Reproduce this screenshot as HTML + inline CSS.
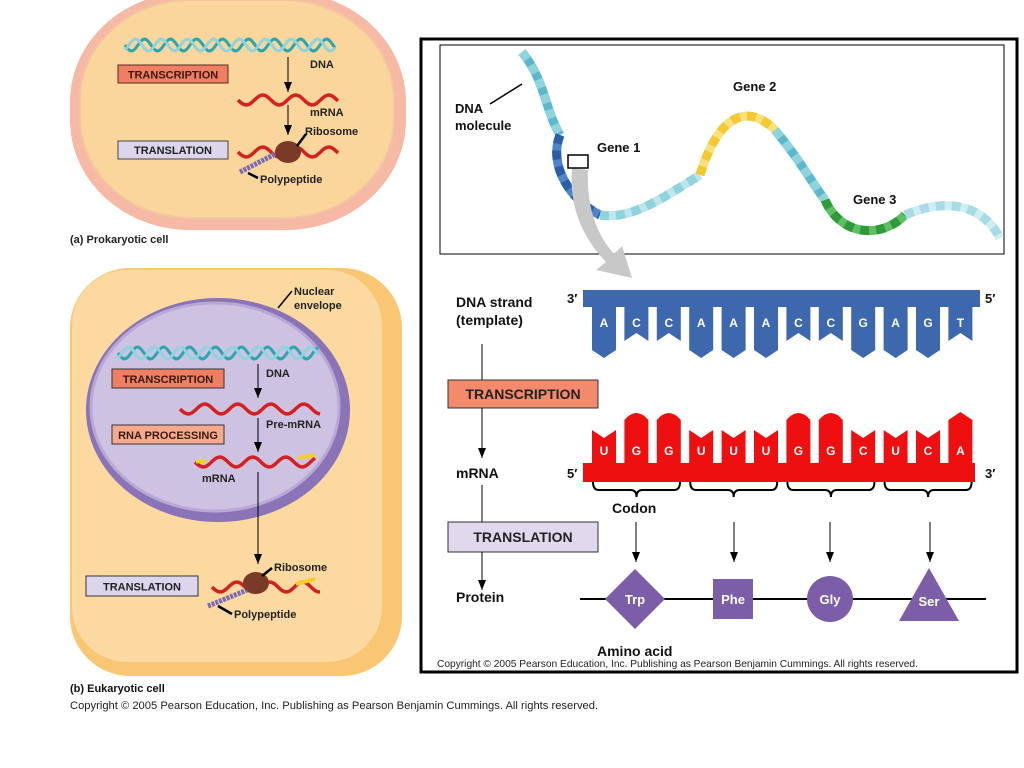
<!DOCTYPE html>
<html><head><meta charset="utf-8"><style>
html,body{margin:0;padding:0;background:#fff;width:1024px;height:768px;overflow:hidden}
text{font-family:"Liberation Sans",Arial,sans-serif;font-weight:bold;}
</style></head><body>
<svg id="s" width="1024" height="768" viewBox="0 0 1024 768" xmlns="http://www.w3.org/2000/svg">
<defs>
<marker id="ah" markerWidth="10" markerHeight="8" refX="10" refY="4" orient="auto" markerUnits="userSpaceOnUse"><path d="M0,0 L10,4 L0,8 Z" fill="#000"/></marker>
</defs>
<!-- Prokaryotic cell -->
<rect x="70" y="-8" width="336" height="238" rx="120" ry="110" fill="#f6b9a6"/>
<rect x="80" y="0" width="314" height="218" rx="110" ry="100" fill="#fbd69c" stroke="#f1c6a0" stroke-width="2"/>
<g id="pdna"></g>
<rect x="118" y="65" width="110" height="18" fill="#ef7f63" stroke="#5a2a20" stroke-width="1"/>
<text x="173" y="78.5" font-size="11" text-anchor="middle" fill="#3a1a10">TRANSCRIPTION</text>
<rect x="118" y="141" width="110" height="18" fill="#dcd5ec" stroke="#444" stroke-width="1"/>
<text x="173" y="154" font-size="11" text-anchor="middle" fill="#222">TRANSLATION</text>
<line x1="288" y1="57" x2="288" y2="92" stroke="#000" marker-end="url(#ah)"/>
<line x1="288" y1="105" x2="288" y2="135" stroke="#000" marker-end="url(#ah)"/>
<text x="310" y="68" font-size="11" fill="#222">DNA</text>
<text x="310" y="116" font-size="11" fill="#222">mRNA</text>
<text x="305" y="135" font-size="11" fill="#222">Ribosome</text>
<text x="260" y="183" font-size="11" fill="#222">Polypeptide</text>
<line x1="297" y1="146" x2="306" y2="134" stroke="#000" stroke-width="2.5"/>
<line x1="248" y1="173" x2="258" y2="178" stroke="#000" stroke-width="2.5"/>
<text x="70" y="243" font-size="11" fill="#222">(a) Prokaryotic cell</text>

<!-- Eukaryotic cell -->
<rect x="70" y="268" width="332" height="408" rx="60" ry="60" fill="#f9c673"/>
<rect x="72" y="270" width="310" height="392" rx="55" ry="55" fill="#fcd9a1"/>
<ellipse cx="218" cy="410" rx="132" ry="112" fill="#8a73b6"/>
<ellipse cx="215" cy="407" rx="124" ry="104" fill="#cdc2e2" stroke="#b8a8d6" stroke-width="3"/>
<g id="edna"></g>
<rect x="112" y="369" width="112" height="19" fill="#ef7f63" stroke="#333" stroke-width="1"/>
<text x="168" y="383" font-size="11" text-anchor="middle" fill="#3a1a10">TRANSCRIPTION</text>
<rect x="112" y="425" width="112" height="19" fill="#f6a98c" stroke="#333" stroke-width="1"/>
<text x="168" y="439" font-size="11" text-anchor="middle" fill="#3a1a10">RNA PROCESSING</text>
<rect x="86" y="576" width="112" height="20" fill="#dcd5ec" stroke="#333" stroke-width="1"/>
<text x="142" y="590.5" font-size="11" text-anchor="middle" fill="#222">TRANSLATION</text>
<line x1="258" y1="364" x2="258" y2="398" stroke="#000" marker-end="url(#ah)"/>
<line x1="258" y1="418" x2="258" y2="452" stroke="#000" marker-end="url(#ah)"/>
<line x1="258" y1="472" x2="258" y2="564" stroke="#000" marker-end="url(#ah)"/>
<text x="266" y="377" font-size="11" fill="#222">DNA</text>
<text x="266" y="428" font-size="11" fill="#222">Pre-mRNA</text>
<text x="202" y="482" font-size="11" fill="#222">mRNA</text>
<text x="294" y="295" font-size="11" fill="#222">Nuclear</text>
<text x="294" y="309" font-size="11" fill="#222">envelope</text>
<line x1="292" y1="291" x2="278" y2="308" stroke="#000" stroke-width="1.5"/>
<text x="274" y="571" font-size="11" fill="#222">Ribosome</text>
<text x="234" y="618" font-size="11" fill="#222">Polypeptide</text>
<line x1="262" y1="576" x2="272" y2="568" stroke="#000" stroke-width="2.5"/>
<line x1="218" y1="606" x2="232" y2="614" stroke="#000" stroke-width="2.5"/>
<text x="70" y="692" font-size="11" fill="#111">(b) Eukaryotic cell</text>
<text x="70" y="709" font-size="11.2" style="font-weight:normal" fill="#222">Copyright © 2005 Pearson Education, Inc. Publishing as Pearson Benjamin Cummings. All rights reserved.</text>

<!-- Right panel -->
<rect x="421" y="39" width="596" height="633" fill="#fff" stroke="#000" stroke-width="3"/>
<rect x="440" y="45" width="564" height="209" fill="#fff" stroke="#000" stroke-width="1"/>
<g id="bigdna"></g>
<path d="M572,168 C568,215 590,245 606,262 L596,270 L632,278 L622,246 L614,254 C600,238 586,212 588,170 Z" fill="#c8c8c8"/>
<rect x="568" y="155" width="20" height="13" fill="none" stroke="#000" stroke-width="1.5"/>
<text x="455" y="113" font-size="13" fill="#111">DNA</text>
<text x="455" y="130" font-size="13" fill="#111">molecule</text>
<line x1="490" y1="104" x2="522" y2="84" stroke="#000" stroke-width="1.5"/>
<text x="597" y="152" font-size="13" fill="#111">Gene 1</text>
<text x="733" y="91" font-size="13" fill="#111">Gene 2</text>
<text x="853" y="204" font-size="13" fill="#111">Gene 3</text>

<text x="456" y="307" font-size="14" fill="#111">DNA strand</text>
<text x="456" y="325" font-size="14" fill="#111">(template)</text>
<text x="567" y="303" font-size="13" fill="#111">3′</text>
<text x="985" y="303" font-size="13" fill="#111">5′</text>
<rect x="583" y="290" width="397" height="17" fill="#3d68ad"/>
<g id="dteeth"></g>
<line x1="482" y1="344" x2="482" y2="380" stroke="#000"/>
<rect x="448" y="380" width="150" height="28" fill="#f38a6c" stroke="#333"/>
<text x="523" y="399" font-size="14" text-anchor="middle" fill="#222">TRANSCRIPTION</text>
<line x1="482" y1="408" x2="482" y2="458" stroke="#000" marker-end="url(#ah)"/>
<text x="456" y="478" font-size="14" fill="#111">mRNA</text>
<text x="567" y="478" font-size="13" fill="#111">5′</text>
<text x="985" y="478" font-size="13" fill="#111">3′</text>
<rect x="583" y="463" width="392" height="19" fill="#ee1010"/>
<g id="rteeth"></g>
<g id="braces" fill="none" stroke="#000" stroke-width="2"></g>
<text x="612" y="513" font-size="14" fill="#111">Codon</text>
<line x1="482" y1="485" x2="482" y2="522" stroke="#000"/>
<rect x="448" y="522" width="150" height="30" fill="#e0d9ee" stroke="#333"/>
<text x="523" y="542" font-size="14" text-anchor="middle" fill="#222">TRANSLATION</text>
<line x1="482" y1="552" x2="482" y2="590" stroke="#000" marker-end="url(#ah)"/>
<text x="456" y="602" font-size="14" fill="#111">Protein</text>
<line x1="636" y1="522" x2="636" y2="562" stroke="#000" marker-end="url(#ah)"/>
<line x1="734" y1="522" x2="734" y2="562" stroke="#000" marker-end="url(#ah)"/>
<line x1="830" y1="522" x2="830" y2="562" stroke="#000" marker-end="url(#ah)"/>
<line x1="930" y1="522" x2="930" y2="562" stroke="#000" marker-end="url(#ah)"/>
<line x1="580" y1="599" x2="986" y2="599" stroke="#000" stroke-width="2"/>
<path d="M635,569 L665,599 L635,629 L605,599 Z" fill="#7b5ea7"/>
<rect x="713" y="579" width="40" height="40" fill="#7b5ea7"/>
<circle cx="830" cy="599" r="23" fill="#7b5ea7"/>
<path d="M929,568 L959,621 L899,621 Z" fill="#7b5ea7"/>
<text x="635" y="604" font-size="13" text-anchor="middle" fill="#fff">Trp</text>
<text x="733" y="604" font-size="13" text-anchor="middle" fill="#fff">Phe</text>
<text x="830" y="604" font-size="13" text-anchor="middle" fill="#fff">Gly</text>
<text x="929" y="606" font-size="13" text-anchor="middle" fill="#fff">Ser</text>
<text x="597" y="656" font-size="14" fill="#111">Amino acid</text>
<text x="437" y="667" font-size="10.2" style="font-weight:normal" fill="#222">Copyright © 2005 Pearson Education, Inc. Publishing as Pearson Benjamin Cummings. All rights reserved.</text>
</svg>
<script>
var NS="http://www.w3.org/2000/svg";
function el(p,t,a){var e=document.createElementNS(NS,t);for(var k in a)e.setAttribute(k,a[k]);document.getElementById(p).appendChild(e);return e;}
function wave(x0,x1,y,amp,per,ph){var d="";for(var x=x0;x<=x1;x+=2){var yy=y+amp*Math.sin((x-x0)/per*2*Math.PI+ph);d+=(d?"L":"M")+x+","+yy.toFixed(1);}return d;}
function helix(g,x0,x1,y,amp,per,c1,c2){el(g,"path",{d:wave(x0,x1,y,amp,per,0),stroke:c1,"stroke-width":3,fill:"none"});el(g,"path",{d:wave(x0,x1,y,amp,per,Math.PI*0.7),stroke:c2,"stroke-width":3,fill:"none"});}
function ribbon(g,x0,x1,y,amp,per){el(g,"path",{d:wave(x0,x1,y,amp,per,0),stroke:"#d42020","stroke-width":3.5,fill:"none"});}
helix("pdna",125,335,45,6,26,"#2aa6b0","#8fd3dc");
ribbon("pdna",238,338,100,5,33);ribbon("pdna",238,338,152,5,33);
el("pdna","path",{d:"M240,172 L283,150",stroke:"#7b6bb5","stroke-width":5,"stroke-dasharray":"3 1",fill:"none"});
el("pdna","ellipse",{cx:288,cy:152,rx:13,ry:11,fill:"#7a3a28"});
helix("edna",118,318,353,6,26,"#2aa6b0","#8fd3dc");
ribbon("edna",180,320,409,5,33);ribbon("edna",195,315,462,5,33);
el("edna","path",{d:"M196,462 L206,461",stroke:"#f0d020","stroke-width":3});el("edna","path",{d:"M298,458 L315,455",stroke:"#f0d020","stroke-width":4});
ribbon("edna",212,320,587,5,33);
el("edna","path",{d:"M208,606 L252,588",stroke:"#7b6bb5","stroke-width":5,"stroke-dasharray":"3 1",fill:"none"});
el("edna","ellipse",{cx:256,cy:583,rx:13,ry:11,fill:"#7a3a28"});
el("edna","path",{d:"M296,584 L315,579",stroke:"#f0d020","stroke-width":4});
var segs=[
 {pts:[[522,52],[545,80],[545,110],[560,135]],c:"#8fd3dc",c2:"#5bb8cc"},
 {pts:[[560,135],[548,165],[570,200],[600,215]],c:"#2c5ea8",c2:"#4c86c6"},
 {pts:[[600,215],[630,220],[660,200],[700,175]],c:"#8fd3dc",c2:"#bce6ec"},
 {pts:[[700,175],[720,110],[750,105],[775,130]],c:"#f3c830",c2:"#f8e07a"},
 {pts:[[775,130],[800,160],[810,180],[825,200]],c:"#8fd3dc",c2:"#5bb8cc"},
 {pts:[[825,200],[840,235],[880,240],[905,215]],c:"#2e9a3a",c2:"#5cc060"},
 {pts:[[905,215],[940,200],[980,200],[1000,238]],c:"#a8dbe6",c2:"#cfeef3"}];
segs.forEach(function(s){var p=s.pts;var d="M"+p[0]+" C"+p[1]+" "+p[2]+" "+p[3];
 el("bigdna","path",{d:d,stroke:s.c2,"stroke-width":9,fill:"none"});
 el("bigdna","path",{d:d,stroke:s.c,"stroke-width":9,fill:"none","stroke-dasharray":"9 7"});});
var dna="ACCAAACCGAGT", rna="UGGUUUGGCUCA";
for(var i=0;i<12;i++){var cx=604+i*32.4,w=24,x=cx-w/2;
 var long=(dna[i]=="A"||dna[i]=="G");var b=long?350:333;
 var d="M"+x+",306 L"+(x+w)+",306 L"+(x+w)+","+b+" L"+cx+","+(b+8)+" L"+x+","+b+" Z";
 if(!long)d="M"+x+",306 L"+(x+w)+",306 L"+(x+w)+","+(b+8)+" L"+cx+","+b+" L"+x+","+(b+8)+" Z";
 el("dteeth","path",{d:d,fill:"#3d68ad"});
 var t=el("dteeth","text",{x:cx,y:327,"font-size":12,"text-anchor":"middle",fill:"#fff"});t.textContent=dna[i];
 var rl=(rna[i]=="G"||rna[i]=="A");var r;
 if(rl)r="M"+x+",464 L"+x+",420 Q"+cx+",406 "+(x+w)+",420 L"+(x+w)+",464 Z";
 else r="M"+x+",464 L"+x+",430 L"+cx+",438 L"+(x+w)+",430 L"+(x+w)+",464 Z";
 if(rna[i]=="A")r="M"+x+",464 L"+x+",420 L"+cx+",412 L"+(x+w)+",420 L"+(x+w)+",464 Z";
 el("rteeth","path",{d:r,fill:"#ee1010"});
 var t2=el("rteeth","text",{x:cx,y:455,"font-size":12,"text-anchor":"middle",fill:"#fff"});t2.textContent=rna[i];}
for(var j=0;j<4;j++){var a=593+j*97.2,b2=a+87,m=(a+b2)/2;
 el("braces","path",{d:"M"+a+",482 Q"+a+",490 "+(a+6)+",490 L"+(m-6)+",490 Q"+m+",490 "+m+",497 Q"+m+",490 "+(m+6)+",490 L"+(b2-6)+",490 Q"+b2+",490 "+b2+",482"});}
</script>
</body></html>
